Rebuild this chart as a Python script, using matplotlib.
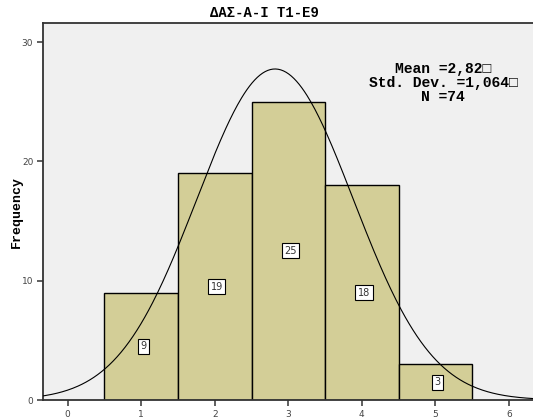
import numpy as np
import matplotlib.pyplot as plt

# frequency table for the histogram
bin_centers = [1, 2, 3, 4, 5]
counts = [9, 19, 25, 18, 3]
mean_val = 2.82
std_val = 1.064
n_total = 74
title = "ΔΑΣ-Α-Ι Τ1-Ε9"
stats = "Mean =2,82\u25a1\nStd. Dev. =1,064\u25a1\nN =74"

mono = ['Liberation Mono', 'DejaVu Sans Mono', 'DejaVu Sans']

fig = plt.figure(figsize=(5.33, 4.19), dpi=100)
ax = fig.add_axes([43/533, 19/419, 1 - 43/533 + 0.01, 377/419])
ax.set_facecolor('#f0f0f0')

ax.bar(bin_centers, counts, width=1.0, color='#d3ce97', edgecolor='black', linewidth=1.0, zorder=2)

# fitted normal curve scaled to counts (bin width 1)
xs = np.linspace(-0.5, 6.6, 400)
ys = n_total / (std_val * np.sqrt(2 * np.pi)) * np.exp(-0.5 * ((xs - mean_val) / std_val) ** 2)
ax.plot(xs, ys, color='black', linewidth=0.8, zorder=3)

for xc, c in zip(bin_centers, counts):
    ax.text(xc + 0.03, c / 2, str(c), ha='center', va='center', fontsize=7, color='#333333', zorder=4,
            bbox=dict(boxstyle='square,pad=0.25', facecolor='white', edgecolor='black', linewidth=0.8))

ax.set_xlim(-0.335, 6.4)
ax.set_ylim(0, 31.6)
ax.set_xticks(range(0, 7))
ax.set_yticks([0, 10, 20, 30])
ax.tick_params(axis='both', labelsize=6.5, colors='#444444', length=4, width=1.2, direction='out')
ax.tick_params(axis='y', pad=3)
for side in ['left', 'bottom', 'top', 'right']:
    ax.spines[side].set_color('#333333')
    ax.spines[side].set_linewidth(1.3)

ax.set_ylabel('Frequency', fontsize=9.5, fontweight='bold', family=mono)
ax.yaxis.set_label_coords(-(43 - 23) / 495, 0.5)

fig.text(264/533, 1 - 13/419, title, ha='center', va='center', fontsize=10, fontweight='bold', family=mono)

fig.text(443/533, 1 - 83/419, stats, ha='center', va='center', fontsize=10.5, fontweight='bold',
         family=mono, linespacing=1.0)

fig.savefig('out.png', dpi=100)
